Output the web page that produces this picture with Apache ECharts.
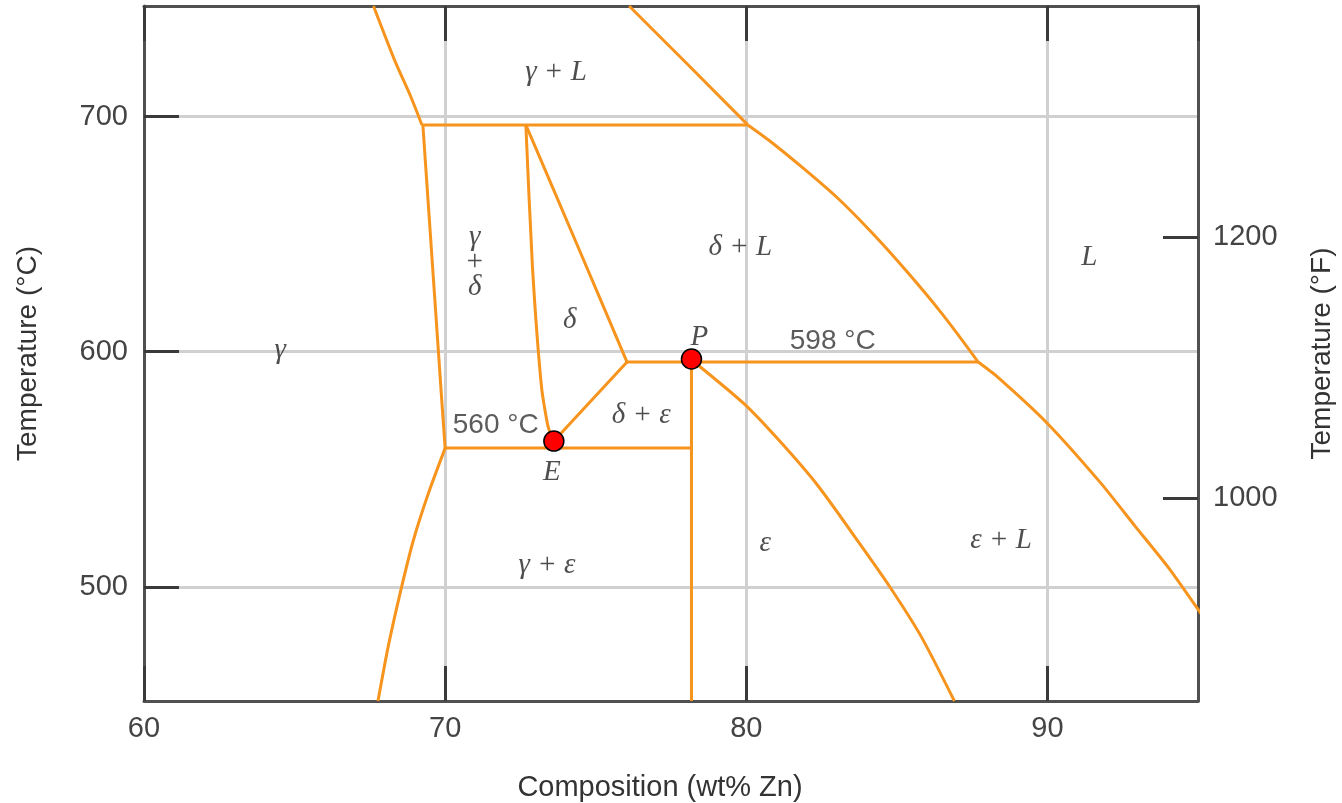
<!DOCTYPE html>
<html>
<head>
<meta charset="utf-8">
<title>Cu-Zn phase diagram</title>
<script src="https://cdn.jsdelivr.net/npm/echarts@6/dist/echarts.min.js"></script>
<style>
html, body { margin: 0; padding: 0; background: #fff; }
#chart { width: 1342px; height: 803px; }
</style>
</head>
<body>
<div id="chart"></div>
<script type="text/javascript">
// [composition wt% Zn, temperature °C]
var gammaLiquidus = [[67.62,747.1],[68.32,724.1],[68.86,708.5],[69.23,696.5]];
var peritectic700 = [[69.23,696.5],[80.05,696.5]];
var gammaSolvusUpper = [[69.26,696.5],[69.88,580.7],[70.0,559]];
var gammaSolvusLower = [[70.0,559],[69.45,540],[68.95,520],[68.5,497],[68.1,474],[67.77,451.4]];
var deltaLeft = [[72.68,696.5],[72.9,636],[73.2,585],[73.42,568],[73.61,562]];
var deltaRight = [[72.68,696.5],[74.4,645],[76.04,595.6]];
var deltaEps = [[76.04,595.6],[73.61,562]];
var peritectic598 = [[76.04,595.6],[87.7,595.6]];
var eutectoid560 = [[70.0,559],[78.18,559]];
var epsLeft = [[78.18,596.6],[78.18,451.4]];
var epsRight = [[78.18,596.6],[79.94,577.7],[81.08,562.4],[82.36,543.3],[83.73,519.0],[84.77,499.9],[85.80,479.0],[86.91,451.4]];
var liquidusGamma = [[76.11,747.1],[78.04,722.4],[80.05,696.5]];
var liquidusDelta = [[80.05,696.5],[80.74,690.1],[81.90,678.0],[83.04,665.3],[84.19,650.4],[85.34,634.0],[86.49,616.3],[87.7,595.6]];
var liquidusEps = [[87.7,595.6],[88.33,589.4],[90.0,569.5],[91.78,544.0],[92.93,525.5],[94.08,507.1],[95.40,483.0]];

var invariantPoints = [[73.61,562],[78.18,596.9]];

var phaseNames = ['γ + L', 'γ\n+\nδ', 'δ + L', 'L', 'δ', 'γ', 'δ + ε', 'ε', 'ε + L', 'γ + ε', 'P', 'E'];
var phasePos = [[73.68,719.0],[70.98,638.1],[79.80,644.5],[91.39,640.3],[74.14,613.5],[64.52,600.7],[76.51,573.0],[80.63,518.6],[88.46,519.9],[73.38,509.3],[78.44,606.2],[73.54,548.8]];
var tempNames = ['560 °C', '598 °C'];
var tempPos = [[71.68,568.8],[82.87,604.5]];

var celsiusTicks = [500, 600, 700];
var fahrenheitTicks = [1000, 1200];

var tMin = 451.4, tMax = 747.1;
var toF = function (c) { return c * 9 / 5 + 32; };

var lineColor = '#f7941d';
var axisColor = '#505050';
var sans = 'Liberation Sans';
var serif = 'Liberation Serif';

var curves = [
	[gammaLiquidus, 0.2], [peritectic700, 0], [gammaSolvusUpper, 0], [gammaSolvusLower, 0.2],
	[deltaLeft, 0.2], [deltaRight, 0.2], [deltaEps, 0], [peritectic598, 0],
	[eutectoid560, 0], [epsLeft, 0], [epsRight, 0.25],
	[liquidusGamma, 0], [liquidusDelta, 0.2], [liquidusEps, 0.2]
];

var series = curves.map(function (c) {
	return {
		type: 'line',
		data: c[0],
		smooth: c[1] || false,
		symbol: 'none',
		silent: true,
		lineStyle: { color: lineColor, width: 3 },
		z: 3
	};
});

function labelData(names, pos) {
	return names.map(function (n, i) { return { name: n, value: pos[i] }; });
}

series.push({
	type: 'scatter',
	data: labelData(phaseNames, phasePos),
	symbolSize: 1,
	silent: true,
	itemStyle: { color: 'rgba(0,0,0,0)' },
	label: {
		show: true, position: 'inside', formatter: '{b}',
		color: '#222', fontFamily: serif, fontStyle: 'italic', fontSize: 29, lineHeight: 25
	},
	z: 4
});
series.push({
	type: 'scatter',
	data: labelData(tempNames, tempPos),
	symbolSize: 1,
	silent: true,
	itemStyle: { color: 'rgba(0,0,0,0)' },
	label: {
		show: true, position: 'inside', formatter: '{b}',
		color: '#333', fontFamily: sans, fontSize: 28
	},
	z: 4
});
series.push({
	type: 'scatter',
	data: invariantPoints,
	symbolSize: 20,
	silent: true,
	itemStyle: { color: '#ff0000', opacity: 1, borderColor: '#000', borderWidth: 1.5 },
	z: 5
});

var myChart = echarts.init(document.getElementById('chart'));
var option = {
	animation: false,
	backgroundColor: '#fff',
	grid: { left: 144, right: 144, top: 6, bottom: 102, outerBoundsMode: 'none' },
	xAxis: [
		{
			type: 'value', min: 60, max: 95, interval: 10,
			name: 'Composition (wt% Zn)', nameLocation: 'middle', nameGap: 72,
			nameTextStyle: { fontFamily: sans, fontSize: 29, color: '#333', padding: [0, 22, 0, 0] },
			axisLine: { show: true, lineStyle: { color: axisColor, width: 3 } },
			axisTick: { show: true, inside: true, length: 35, lineStyle: { color: '#3a3a3a', width: 3 } },
			axisLabel: { fontFamily: sans, fontSize: 29, color: '#444', margin: 13, showMaxLabel: false },
			splitLine: { show: true, lineStyle: { color: '#d0d0d0', width: 3 } }
		},
		{
			type: 'value', min: 60, max: 95, interval: 10, position: 'top',
			axisLine: { show: true, lineStyle: { color: axisColor, width: 3 } },
			axisTick: { show: true, inside: true, length: 35, lineStyle: { color: '#3a3a3a', width: 3 } },
			axisLabel: { show: false },
			splitLine: { show: false }
		}
	],
	yAxis: [
		{
			type: 'value', min: tMin, max: tMax,
			name: 'Temperature (°C)', nameLocation: 'middle', nameGap: 102, nameRotate: 90,
			nameTextStyle: { fontFamily: sans, fontSize: 28, color: '#333' },
			axisLine: { show: true, lineStyle: { color: axisColor, width: 3 } },
			axisTick: { show: true, inside: true, length: 35, customValues: celsiusTicks, lineStyle: { color: '#3a3a3a', width: 3 } },
			axisLabel: { customValues: celsiusTicks, fontFamily: sans, fontSize: 29, color: '#444', margin: 16 },
			splitLine: { show: true, lineStyle: { color: '#d0d0d0', width: 3 } }
		},
		{
			type: 'value', min: toF(tMin), max: toF(tMax), position: 'right',
			name: 'Temperature (°F)', nameLocation: 'middle', nameGap: 110, nameRotate: 90,
			nameTextStyle: { fontFamily: sans, fontSize: 28, color: '#333' },
			axisLine: { show: true, lineStyle: { color: axisColor, width: 3 } },
			axisTick: { show: true, inside: true, length: 35, customValues: fahrenheitTicks, lineStyle: { color: '#3a3a3a', width: 3 } },
			axisLabel: {
				customValues: fahrenheitTicks, fontFamily: sans, fontSize: 29, color: '#444', margin: 15,
				formatter: function (v) { return String(v); }
			},
			splitLine: { show: false }
		}
	],
	series: series
};
myChart.setOption(option);
</script>
</body>
</html>
